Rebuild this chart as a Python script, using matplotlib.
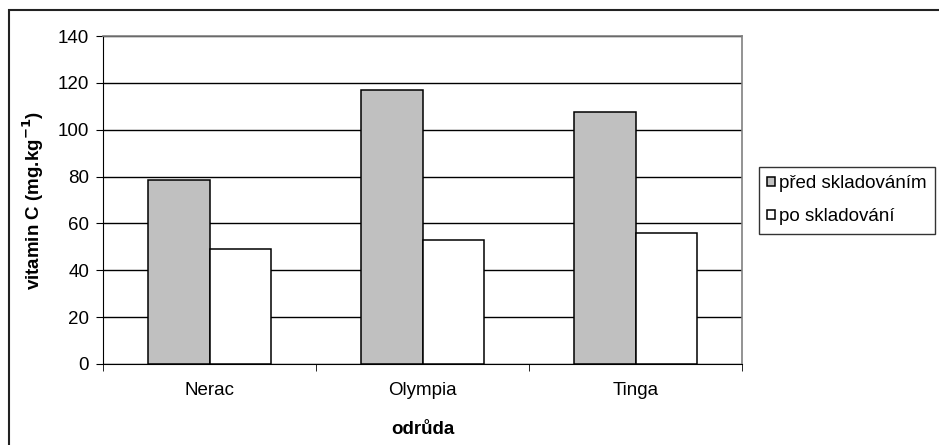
import numpy as np
import matplotlib.pyplot as plt
from matplotlib.patches import Rectangle

odrudy = ["Nerac", "Olympia", "Tinga"]
pred = [78.7, 116.8, 107.7]
po = [49.0, 52.8, 56.0]
yticks = [0, 20, 40, 60, 80, 100, 120, 140]

plt.rcParams['font.family'] = ['Liberation Sans', 'DejaVu Sans']

fig = plt.figure(figsize=(9.39, 4.45), dpi=100)
# plot area in pixels: x 103..742, y 36..364
ax = fig.add_axes([103/939, 1-364/445, 639/939, 328/445])

x = np.arange(len(odrudy))
w = 0.29
ax.bar(x - w/2, pred, w, color='#c0c0c0', edgecolor='black', linewidth=1.1, label='před skladováním', zorder=3)
ax.bar(x + w/2, po, w, color='white', edgecolor='black', linewidth=1.1, label='po skladování', zorder=3)

ax.set_xlim(-0.5, 2.5)
ax.set_ylim(0, 140)
ax.set_yticks(yticks)
ax.yaxis.grid(True, color='black', linewidth=1)
ax.set_axisbelow(True)

ax.set_xticks(x)
ax.set_xticklabels(odrudy, fontsize=13.5)
ax.tick_params(axis='x', length=0, pad=13)
ax.set_xticks([-0.5, 0.5, 1.5, 2.5], minor=True)
ax.tick_params(axis='x', which='minor', length=5, direction='out', color='black')
ax.tick_params(axis='y', length=5, direction='out', labelsize=13.5, pad=5)

for s in ['top', 'right']:
    ax.spines[s].set_color('#808080')
    ax.spines[s].set_linewidth(1.2)
ax.spines['left'].set_color('black')
ax.spines['bottom'].set_color('black')

ax.set_xlabel('odrůda', fontsize=13.5, fontweight='bold', va='center')
ax.xaxis.set_label_coords(0.5, (364-429)/328)
ax.set_ylabel('vitamin C (mg.kg$^{\\mathbf{-1}}$)', fontsize=13.5, fontweight='bold', va='center')
ax.yaxis.set_label_coords((33-103)/639, 0.5)

leg = fig.legend(loc='upper left', bbox_to_anchor=(759/939, 1-167/445), fontsize=13.5,
                 frameon=True, fancybox=False, edgecolor='black', handlelength=0.4,
                 handleheight=0.4, handletextpad=0.2, borderpad=0.45, labelspacing=0.85,
                 borderaxespad=0)
leg.get_frame().set_linewidth(1)

# chart area border (only left and top are inside the picture)
fig.patches.append(Rectangle((9/939, -0.1), 1.2, (445-10)/445 + 0.1, transform=fig.transFigure,
                             fill=False, edgecolor='#222222', linewidth=1.5))

fig.savefig('out.png', dpi=100)
